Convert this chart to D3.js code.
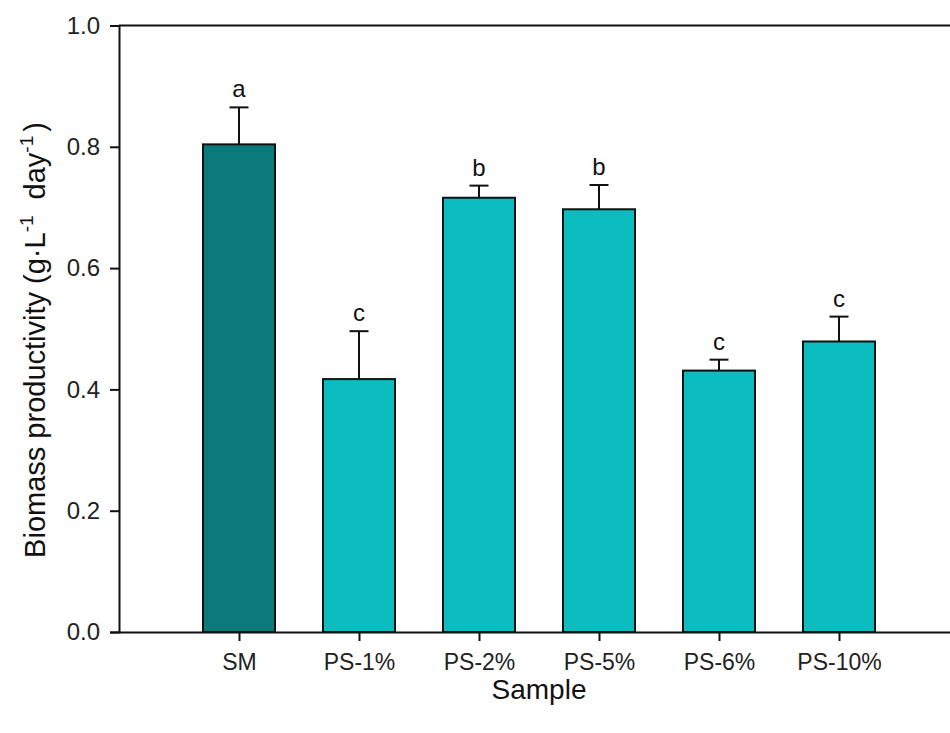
<!DOCTYPE html>
<html>
<head>
<meta charset="utf-8">
<script src="https://cdn.jsdelivr.net/npm/d3@7/dist/d3.min.js"></script>
<style>
  html, body { margin: 0; padding: 0; background: #fff; }
  svg { display: block; font-family: "Liberation Sans", Arial, sans-serif; }
</style>
</head>
<body>
<svg id="chart" width="950" height="733"></svg>
<script>
// Biomass productivity per sample, with standard deviation and significance groups
const samples = ["SM", "PS-1%", "PS-2%", "PS-5%", "PS-6%", "PS-10%"];
const productivity = [0.804, 0.417, 0.716, 0.697, 0.431, 0.479];
const stdDev = [0.061, 0.079, 0.020, 0.040, 0.018, 0.041];
const groups = ["a", "c", "b", "b", "c", "c"];
const yTicks = [0.0, 0.2, 0.4, 0.6, 0.8, 1.0];
const barColors = ["#0b7a7b", "#0bbcc0", "#0bbcc0", "#0bbcc0", "#0bbcc0", "#0bbcc0"];

(function () {
  const svg = d3.select("#chart");
  const plotLeft = 119, plotTop = 25.5, plotBottom = 632, plotRight = 959;
  const font = "Liberation Sans, Arial, sans-serif";

  // Categories sit at positions 1..6 on a 0..7 axis
  const x = d3.scaleLinear().domain([0, samples.length + 1]).range([plotLeft, plotRight]);
  const y = d3.scaleLinear().domain([0, 1]).range([plotBottom, plotTop]);
  const barW = 72;

  // Bars
  svg.append("g").selectAll("rect")
    .data(samples)
    .join("rect")
    .attr("x", (d, i) => x(i + 1) - barW / 2)
    .attr("y", (d, i) => y(productivity[i]))
    .attr("width", barW)
    .attr("height", (d, i) => y(0) - y(productivity[i]))
    .attr("fill", (d, i) => barColors[i])
    .attr("stroke", "#111")
    .attr("stroke-width", 2);

  // Upper error bars
  const err = svg.append("g").attr("stroke", "#111").attr("stroke-width", 2);
  samples.forEach((d, i) => {
    const cx = x(i + 1);
    err.append("line")
      .attr("x1", cx).attr("x2", cx)
      .attr("y1", y(productivity[i])).attr("y2", y(productivity[i] + stdDev[i]));
    err.append("line")
      .attr("x1", cx - 9.5).attr("x2", cx + 9.5)
      .attr("y1", y(productivity[i] + stdDev[i])).attr("y2", y(productivity[i] + stdDev[i]));
  });

  // Significance letters
  svg.append("g").selectAll("text")
    .data(samples)
    .join("text")
    .attr("x", (d, i) => x(i + 1))
    .attr("y", (d, i) => y(productivity[i] + stdDev[i]) - 10)
    .attr("text-anchor", "middle")
    .attr("font-size", 24)
    .attr("font-family", font)
    .attr("fill", "#111")
    .text((d, i) => groups[i]);

  // Top frame line
  svg.append("line").attr("x1", plotLeft).attr("x2", plotRight).attr("y1", plotTop).attr("y2", plotTop)
    .attr("stroke", "#111").attr("stroke-width", 2);

  // Y axis
  const yAxis = svg.append("g")
    .attr("transform", `translate(${plotLeft},0)`)
    .call(d3.axisLeft(y).tickValues(yTicks).tickFormat(d3.format(".1f")).tickSize(9).tickPadding(10));
  yAxis.select(".domain").attr("stroke", "#111").attr("stroke-width", 2);
  yAxis.selectAll(".tick line").attr("stroke", "#111").attr("stroke-width", 2);
  yAxis.selectAll(".tick text").attr("font-size", 24).attr("fill", "#222").attr("font-family", font);

  // X axis
  const xAxis = svg.append("g")
    .attr("transform", `translate(0,${plotBottom})`)
    .call(d3.axisBottom(x).tickValues(d3.range(1, samples.length + 1))
      .tickFormat(d => samples[d - 1]).tickSize(9).tickPadding(13).tickSizeOuter(0));
  xAxis.select(".domain").attr("stroke", "#111").attr("stroke-width", 2);
  xAxis.selectAll(".tick line").attr("stroke", "#111").attr("stroke-width", 2);
  xAxis.selectAll(".tick text").attr("font-size", 23).attr("fill", "#222").attr("font-family", font);

  // Axis titles
  svg.append("text")
    .attr("x", (plotLeft + plotRight) / 2).attr("y", 699)
    .attr("text-anchor", "middle").attr("font-size", 28).attr("font-family", font).attr("fill", "#111")
    .text("Sample");

  const yTitle = svg.append("text")
    .attr("transform", "translate(45,340) rotate(-90)")
    .attr("text-anchor", "middle").attr("font-size", 29).attr("font-family", font).attr("fill", "#111");
  yTitle.append("tspan").text("Biomass productivity (g·L");
  yTitle.append("tspan").attr("dy", -12).attr("font-size", 19).text("-1");
  yTitle.append("tspan").attr("dy", 12).attr("dx", 16).text("day");
  yTitle.append("tspan").attr("dy", -12).attr("font-size", 19).text("-1");
  yTitle.append("tspan").attr("dy", 12).attr("dx", 4).text(")");
})();
</script>
</body>
</html>
